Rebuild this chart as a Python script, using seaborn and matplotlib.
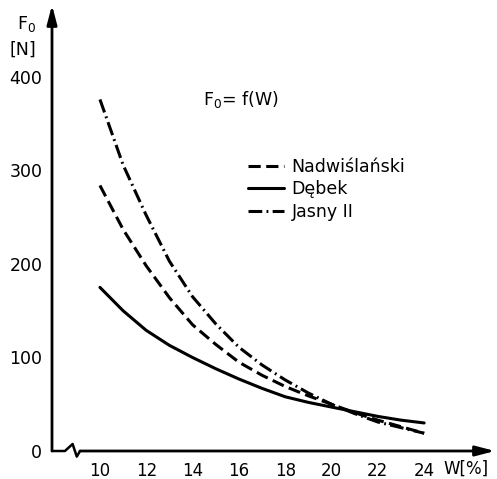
import matplotlib
matplotlib.use('Agg')
import matplotlib.pyplot as plt
import seaborn as sns
import pandas as pd

# wilgotnosc W [%] i sila F0 [N]
W = [10, 11, 12, 13, 14, 15, 16, 17, 18, 19, 20, 21, 22, 23, 24]
nadwislanski = [284, 237, 198, 164, 135, 114, 95, 81, 69, 59, 50, 41, 33, 26, 19]
debek = [175, 150, 129, 113, 100, 88, 77, 67, 58, 52, 47, 42, 37, 33, 30]
jasny = [376, 306, 252, 203, 165, 136, 111, 92, 76, 62, 50, 40, 31, 25, 19]
nazwy = ['Nadwiślański', 'Dębek', 'Jasny II']

x_ticks = [10, 12, 14, 16, 18, 20, 22, 24]
y_ticks = [0, 100, 200, 300, 400]

sns.set_style('white')
plt.rcParams['font.family'] = ['DejaVu Sans']
plt.rcParams['text.color'] = 'black'
plt.rcParams['xtick.color'] = 'black'
plt.rcParams['ytick.color'] = 'black'

df = pd.DataFrame({
    'W': W * 3,
    'F0': nadwislanski + debek + jasny,
    'odmiana': [n for n in nazwy for _ in W],
})

W_PX, H_PX = 497, 479
fig = plt.figure(figsize=(W_PX / 100, H_PX / 100), dpi=100)
ax = fig.add_axes([52 / W_PX, 1 - 451 / H_PX, 443 / W_PX, 446 / H_PX])

kreski = {'Nadwiślański': (4, 1.8), 'Dębek': '', 'Jasny II': (4.5, 1.4, 0.6, 1.4)}
sns.lineplot(data=df, x='W', y='F0', style='odmiana', style_order=nazwy,
             dashes=kreski, color='black', linewidth=2.2, ax=ax, legend=True)

xmin, xmax = 7.93, 27.06
ax.set_xlim(xmin, xmax)
ax.set_ylim(0, 477)
for s in ax.spines.values():
    s.set_visible(False)

ax.set_xticks(x_ticks)
ax.set_yticks(y_ticks)
ax.tick_params(axis='y', direction='in', length=4, width=1.5, pad=7, labelsize=12.5)
ax.tick_params(axis='x', direction='in', length=4, width=1.3, pad=8, labelsize=12)
ax.set_xlabel('')
ax.set_ylabel('')

# osie ze strzalkami
strzalka = dict(arrowstyle='-|>,head_length=1.15,head_width=0.3', lw=2, color='black',
                shrinkA=0, shrinkB=0, mutation_scale=10)
ax.annotate('', xy=(0, 1), xytext=(0, 0), xycoords='axes fraction', arrowprops=strzalka,
            annotation_clip=False)
ax.plot([xmin, 8.49, 8.82, 9.0, 9.14], [0, 0, 7.5, -6, 0], color='black', lw=1.8,
        clip_on=False)
ax.annotate('', xy=(xmax, 0), xytext=(9.14, 0), arrowprops=strzalka, annotation_clip=False)

leg = ax.get_legend()
handles = leg.legend_handles
labels = [t.get_text() for t in leg.get_texts()]
ax.legend(handles, labels, frameon=False, fontsize=12.5, handlelength=2.1, handletextpad=0.4,
          labelspacing=0.25, borderpad=0, borderaxespad=0, loc='upper left',
          bbox_to_anchor=(248 / W_PX, 1 - 158 / H_PX), bbox_transform=fig.transFigure)

fig.text(17 / W_PX, 1 - 24 / H_PX, 'F$_0$', fontsize=12.5, va='center', ha='left')
fig.text(23 / W_PX, 1 - 50 / H_PX, '[N]', fontsize=12.5, va='center', ha='center')
fig.text(203 / W_PX, 1 - 99 / H_PX, 'F$_0$= f(W)', fontsize=12.5, va='center', ha='left')
fig.text(443 / W_PX, 1 - 469 / H_PX, 'W[%]', fontsize=12, va='center', ha='left')

fig.savefig('out.png', dpi=100)
